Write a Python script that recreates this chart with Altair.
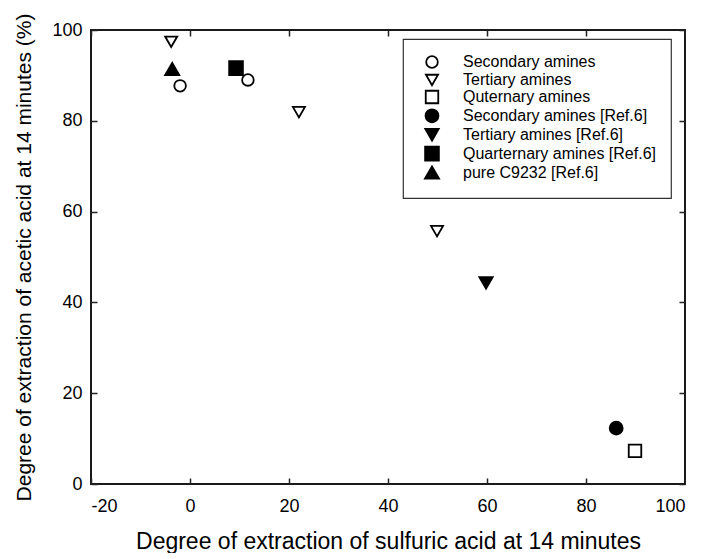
import altair as alt
import pandas as pd

# ---- data ----
series_order = [
    "Secondary amines",
    "Tertiary amines",
    "Quternary amines",
    "Secondary amines [Ref.6]",
    "Tertiary amines [Ref.6]",
    "Quarternary amines [Ref.6]",
    "pure C9232 [Ref.6]",
]
shapes = ["circle", "triangle-down", "square", "circle", "triangle-down", "square", "triangle-up"]
fills = ["white", "white", "white", "black", "black", "black", "black"]
strokes = ["black"] * 7
sizes = [135, 200, 130, 150, 210, 170, 210]

series = (["Secondary amines"] * 2 + ["Tertiary amines"] * 3 +
          ["Quternary amines", "Secondary amines [Ref.6]", "Tertiary amines [Ref.6]",
           "Quarternary amines [Ref.6]", "pure C9232 [Ref.6]"])
x_sulfuric = [-2.0, 11.7, -3.8, 22.0, 49.9, 89.9, 86.1, 59.8, 9.3, -3.6]
y_acetic = [87.7, 89.0, 97.4, 81.9, 55.7, 7.3, 12.3, 44.3, 91.6, 91.4]

x_ticks = [-20, 0, 20, 40, 60, 80, 100]
y_ticks = [0, 20, 40, 60, 80, 100]

df = pd.DataFrame({"series": series, "x": x_sulfuric, "y": y_acetic})

FONT = "Liberation Sans"
xscale = alt.Scale(domain=[-20, 100], nice=False, zero=False)
yscale = alt.Scale(domain=[0, 100], nice=False)
hyphen = "datum.value < 0 ? '-' + abs(datum.value) : datum.label"

points = alt.Chart(df).mark_point(filled=True, strokeWidth=1.8, opacity=1).encode(
    x=alt.X("x:Q", scale=xscale,
            title="Degree of extraction of sulfuric acid at 14 minutes",
            axis=alt.Axis(orient="bottom", values=x_ticks, ticks=False, domain=False, grid=False,
                          labelFontSize=18, labelPadding=13, labelColor="black",
                          labelExpr=hyphen,
                          titleFontSize=23, titleFontWeight="normal", titleColor="black",
                          titlePadding=15, labelFont=FONT, titleFont=FONT)),
    y=alt.Y("y:Q", scale=yscale,
            title="Degree of extraction of acetic acid at 14 minutes (%)",
            axis=alt.Axis(orient="left", values=y_ticks, ticks=False, domain=False, grid=False,
                          labelFontSize=18, labelPadding=9, labelColor="black",
                          titleFontSize=21, titleFontWeight="normal", titleColor="black",
                          titlePadding=17, labelFont=FONT, titleFont=FONT)),
    shape=alt.Shape("series:N", scale=alt.Scale(domain=series_order, range=shapes),
                    legend=alt.Legend(title=None)),
    fill=alt.Fill("series:N", scale=alt.Scale(domain=series_order, range=fills),
                  legend=alt.Legend(title=None)),
    stroke=alt.Stroke("series:N", scale=alt.Scale(domain=series_order, range=strokes),
                      legend=alt.Legend(title=None)),
    size=alt.Size("series:N", scale=alt.Scale(domain=series_order, range=sizes),
                  legend=alt.Legend(title=None)),
)

# inward ticks on bottom/left
ticks_bl = alt.Chart(df).mark_point(opacity=0).encode(
    x=alt.X("x:Q", scale=xscale, title=None,
            axis=alt.Axis(orient="bottom", values=x_ticks, labels=False, domain=False, grid=False,
                          ticks=True, tickSize=6, tickWidth=1.5, tickColor="#222", offset=-6)),
    y=alt.Y("y:Q", scale=yscale, title=None,
            axis=alt.Axis(orient="left", values=y_ticks, labels=False, domain=False, grid=False,
                          ticks=True, tickSize=6, tickWidth=1.5, tickColor="#222", offset=-6)),
)

# inward ticks on top/right
ticks_tr = alt.Chart(df).mark_point(opacity=0).encode(
    x=alt.X("x:Q", scale=xscale, title=None,
            axis=alt.Axis(orient="top", values=x_ticks, labels=False, domain=False, grid=False,
                          ticks=True, tickSize=6, tickWidth=1.5, tickColor="#222", offset=-6)),
    y=alt.Y("y:Q", scale=yscale, title=None,
            axis=alt.Axis(orient="right", values=y_ticks, labels=False, domain=False, grid=False,
                          ticks=True, tickSize=6, tickWidth=1.5, tickColor="#222", offset=-6)),
)

chart = alt.layer(points, ticks_bl, ticks_tr).resolve_axis(
    x="independent", y="independent"
).properties(
    width=594, height=454,
    padding={"left": 13, "top": 13, "right": 0, "bottom": 0},
).configure(
    font=FONT,
).configure_view(
    stroke="#1a1a1a", strokeWidth=2,
).configure_legend(
    orient="none", legendX=312, legendY=9,
    strokeColor="#333", strokeWidth=1.2, padding=15,
    labelFontSize=16, labelFont=FONT, labelColor="black", labelLimit=400,
    labelOffset=23, rowPadding=-2.2, symbolStrokeWidth=1.8,
    symbolOffset=6, fillColor="white",
)

chart.save("out.html", embed_options={"renderer": "svg", "actions": False})
